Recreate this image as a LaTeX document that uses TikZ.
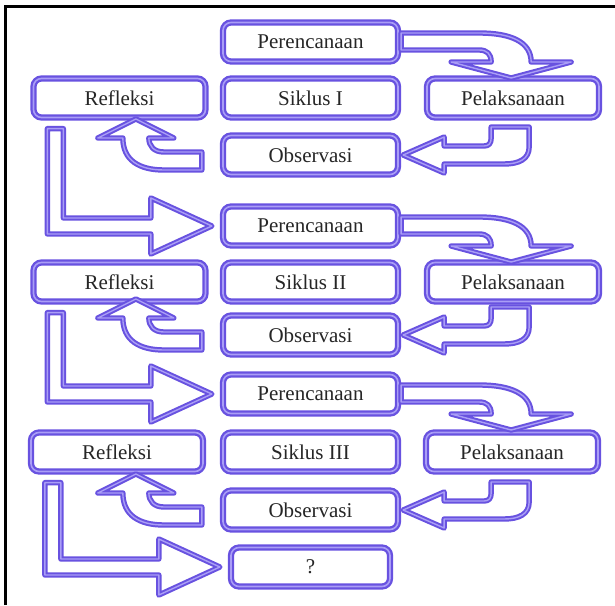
\documentclass[tikz,border=0pt]{standalone}
\usepackage{fontspec}
\setmainfont{Liberation Serif}
\usetikzlibrary{calc}
\definecolor{ungu}{RGB}{104,82,224}
\definecolor{ungumuda}{RGB}{170,158,246}
\tikzstyle{kotak}=[draw=ungu, double=ungumuda, double distance=.8pt, line width=1.15pt, rounded corners=4pt, fill=white, minimum width=86pt, minimum height=19.5pt, text=black!85, font=\fontsize{10.5}{12}\selectfont]
\tikzstyle{tengah}=[kotak, minimum width=87.5pt]
\tikzstyle{panah}=[draw=ungu, double=ungumuda, double distance=.7pt, line width=1pt, fill=white, line join=round]

\begin{document}
\begin{tikzpicture}[x=.5pt, y=-.5pt]
      \useasboundingbox (0,0) rectangle (615,605);
      \draw[line width=1.5pt] (5.5,605) -- (5.5,6.5) -- (615,6.5);

      % siklus I
      \node[tengah] (p1) at (310.5,42) {Perencanaan};
      \node[kotak] (r1) at (119.5,98) {Refleksi};
      \node[tengah] (s1) at (310.5,98) {Siklus I};
      \node[kotak] (l1) at (513,98) {Pelaksanaan};
      \node[tengah] (o1) at (310.5,155) {Observasi};

      % siklus II
      \node[tengah] (p2) at (310.5,226) {Perencanaan};
      \node[kotak] (r2) at (119.5,282) {Refleksi};
      \node[tengah] (s2) at (310.5,282) {Siklus II};
      \node[kotak] (l2) at (513,282) {Pelaksanaan};
      \node[tengah] (o2) at (310.5,335) {Observasi};

      % siklus III
      \node[tengah] (p3) at (310.5,394) {Perencanaan};
      \node[kotak] (r3) at (117,452) {Refleksi};
      \node[tengah] (s3) at (310.5,452) {Siklus III};
      \node[kotak] (l3) at (512,452) {Pelaksanaan};
      \node[tengah] (o3) at (310.5,510) {Observasi};

      \node[kotak, minimum width=79.5pt] (q) at (310.5,567) {?};

      \foreach \i in {1,2,3} {
        \draw[panah, shift={(p\i.east)}] (2,-9) -- (80,-9) .. controls (112,-9) and (132,0) .. (132,20) -- (172,20) -- (112,36) -- (52,20) -- (92,20) .. controls (92,12) and (88,8) .. (80,8) -- (2,8) -- cycle;
        \draw[panah, shift={(o\i.east)}] (92,-28) -- (130,-28) -- (130,-8) .. controls (130,4) and (120,9) .. (105,9) -- (45,9) -- (45,18) -- (4,0) -- (45,-18) -- (45,-9) -- (85,-9) .. controls (90,-9) and (92,-12) .. (92,-17) -- cycle;
        \draw[panah, shift={(o\i.west)}] (-20,-3) -- (-58,-3) .. controls (-68,-3) and (-73,-9) .. (-73,-17) -- (-48,-17) -- (-86,-36) -- (-124,-17) -- (-99,-17) .. controls (-99,5) and (-83,15) .. (-58,15) -- (-20,15) -- cycle;
      }

      \foreach \i/\t in {1/p2,2/p3,3/q} {
        \draw[panah] ($(r\i.south west)+(15,10)$) coordinate (d\i) -- ++(16,0) |- ($(\t.west)+(-71,-8)$) -- ++(0,-20) -- ($(\t.west)+(-10,0)$) -- ++(-61,28) -- ++(0,-20) -| (d\i) -- cycle;
      }
\end{tikzpicture}
\end{document}
